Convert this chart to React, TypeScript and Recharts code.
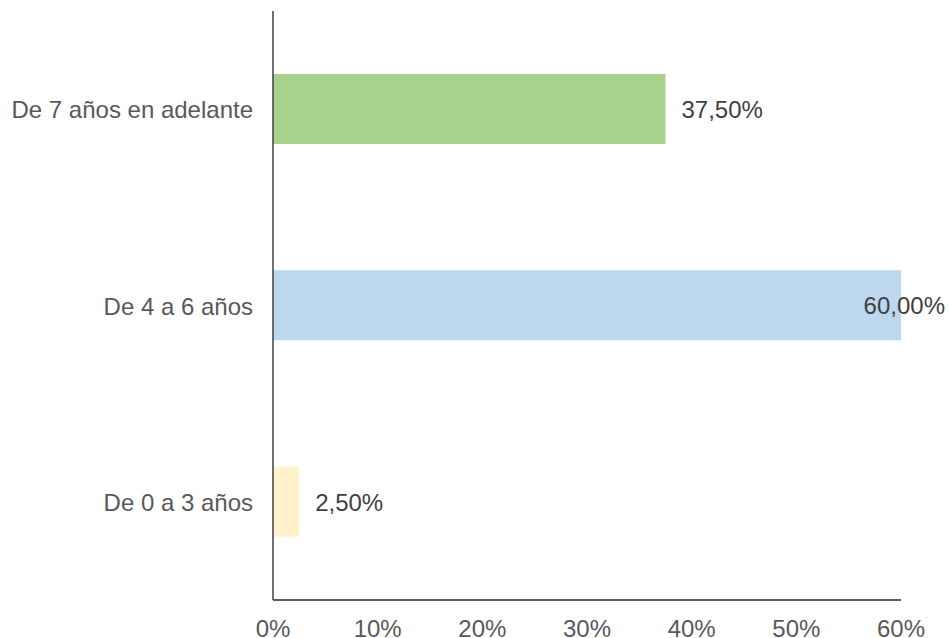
import React from "react";
import { BarChart, Bar, XAxis, YAxis, Cell, LabelList } from "recharts";

const categories = ["De 7 años en adelante", "De 4 a 6 años", "De 0 a 3 años"];
const values = [0.375, 0.6, 0.025];
const colors = ["#A9D18E", "#BDD7EE", "#FFF2CC"];
const xTicks = [0, 0.1, 0.2, 0.3, 0.4, 0.5, 0.6];

const data = categories.map((c, i) => ({ name: c, value: values[i] }));

const W = 948;
const H = 638;
const FONT = "'Liberation Sans', Arial, sans-serif";

const fmtLabel = (v: number) => (v * 100).toFixed(2).replace(".", ",") + "%";

const XTick = (props: any) => {
  const { x, y, payload } = props;
  return (
    <text x={x} y={y + 35} textAnchor="middle" fill="#595959" fontSize={24} fontFamily={FONT}>
      {Math.round(payload.value * 100) + "%"}
    </text>
  );
};

const YTick = (props: any) => {
  const { x, y, payload } = props;
  return (
    <text x={x - 18} y={y + 9} textAnchor="end" fill="#595959" fontSize={24} fontFamily={FONT}>
      {payload.value}
    </text>
  );
};

const ValueLabel = (props: any) => {
  const { x, y, width, height, value } = props;
  const text = fmtLabel(value);
  const est = text.length * 13.5;
  let lx = x + width + 16;
  let anchor: "start" | "end" = "start";
  if (lx + est > W) {
    lx = W - 3;
    anchor = "end";
  }
  return (
    <text x={lx} y={y + height / 2 + 9} textAnchor={anchor} fill="#404040" fontSize={24} fontFamily={FONT}>
      {text}
    </text>
  );
};

export default function App() {
  return (
    <div style={{ position: "absolute", left: 0, top: 0, width: W, height: H, background: "#fff" }}>
      <BarChart
        width={W}
        height={H}
        data={data}
        layout="vertical"
        margin={{ top: 11, right: 47, bottom: 0, left: 0 }}
        barSize={70}
      >
        <XAxis
          type="number"
          domain={[0, 0.6]}
          ticks={xTicks}
          height={38}
          tickLine={false}
          tickSize={0}
          axisLine={{ stroke: "#262626", strokeWidth: 1.5 }}
          tick={<XTick />}
          interval={0}
        />
        <YAxis
          type="category"
          dataKey="name"
          width={273}
          tickLine={false}
          tickSize={0}
          axisLine={{ stroke: "#404040", strokeWidth: 1.5 }}
          tick={<YTick />}
          interval={0}
        />
        <Bar dataKey="value" isAnimationActive={false}>
          {data.map((d, i) => (
            <Cell key={d.name} fill={colors[i]} />
          ))}
          <LabelList dataKey="value" content={<ValueLabel />} />
        </Bar>
      </BarChart>
    </div>
  );
}
